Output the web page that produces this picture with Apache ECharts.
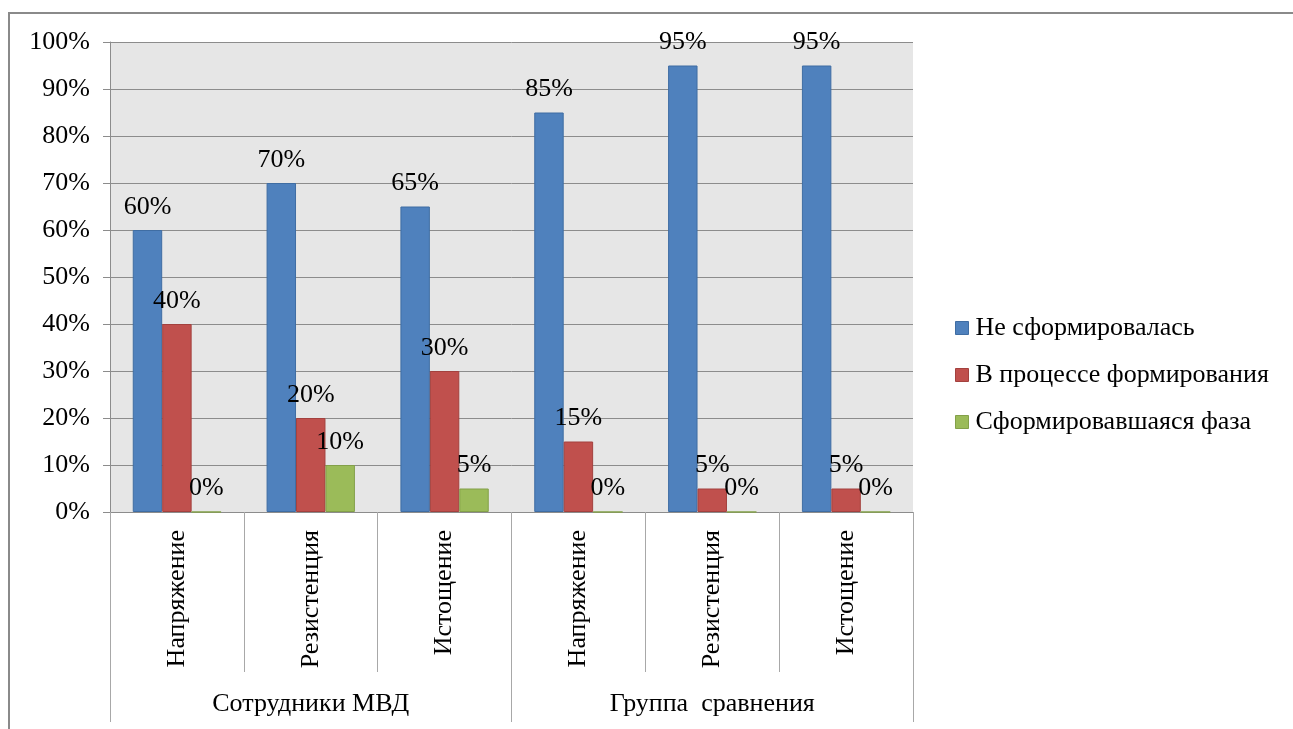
<!DOCTYPE html>
<html>
<head>
<meta charset="utf-8">
<style>
  html, body { margin: 0; padding: 0; background: #ffffff; }
  #chart { width: 1293px; height: 729px; }
</style>
<script src="https://cdn.jsdelivr.net/npm/echarts@6/dist/echarts.min.js"></script>
</head>
<body>
<div id="chart"></div>
<script>
// Stage of the stress syndrome, per group
const stages = ['Напряжение', 'Резистенция', 'Истощение', 'Напряжение', 'Резистенция', 'Истощение'];
const groups = ['Сотрудники МВД', 'Группа  сравнения'];
const seriesNames = ['Не сформировалась', 'В процессе формирования', 'Сформировавшаяся фаза'];
const notFormed = [60, 70, 65, 85, 95, 95];
const forming = [40, 20, 30, 15, 5, 5];
const formed = [0, 10, 5, 0, 0, 0];
const yTicks = [0, 10, 20, 30, 40, 50, 60, 70, 80, 90, 100];

const FONT = 'Liberation Serif, Times New Roman, serif';
const FS = 26;
const colors = ['#4f81bd', '#c0504d', '#9bbb59'];
const borders = ['#3f6da3', '#a3413e', '#83a049'];

const chart = echarts.init(document.getElementById('chart'), null, { renderer: 'canvas' });

function barSeries(name, values, i) {
  return {
    name: name,
    type: 'bar',
    xAxisIndex: 0,
    data: values,
    barGap: '0%',
    barCategoryGap: '34%',
    itemStyle: { color: colors[i], borderColor: borders[i], borderWidth: 1 },
    label: {
      show: true,
      position: 'top',
      distance: 10,
      formatter: p => p.value + '%',
      fontFamily: FONT,
      fontSize: FS,
      color: '#000'
    },
    emphasis: { disabled: true }
  };
}

chart.setOption({
  animation: false,
  backgroundColor: '#ffffff',
  textStyle: { fontFamily: FONT },
  graphic: [{
    type: 'rect',
    shape: { x: 9, y: 13, width: 1300, height: 730 },
    style: { fill: 'none', stroke: '#8a8a8a', lineWidth: 2 },
    silent: true
  }],
  grid: {
    left: 110, top: 42, width: 803, height: 470,
    show: true, backgroundColor: '#e6e6e6', borderWidth: 0
  },
  legend: {
    orient: 'vertical',
    left: 955,
    top: 315,
    padding: 0,
    itemWidth: 13,
    itemHeight: 13,
    itemGap: 21,
    icon: 'rect',
    textStyle: { fontFamily: FONT, fontSize: FS, color: '#000', padding: [0, 0, 0, 2] },
    data: seriesNames.map((n, i) => ({ name: n, itemStyle: { borderColor: borders[i], borderWidth: 1 } }))
  },
  xAxis: [{
    type: 'category',
    data: stages,
    position: 'bottom',
    axisLine: { show: true, lineStyle: { color: '#8c8c8c', width: 1 } },
    axisTick: { show: true, interval: 0, length: 160, lineStyle: { color: '#a8a8a8' } },
    axisLabel: {
      interval: 0, rotate: 90, margin: 18,
      fontFamily: FONT, fontSize: FS, color: '#000'
    }
  }, {
    type: 'category',
    data: groups,
    position: 'bottom',
    axisLine: { show: false },
    axisTick: { show: true, interval: 0, length: 210, lineStyle: { color: '#a8a8a8' } },
    axisLabel: {
      interval: 0, margin: 179,
      fontFamily: FONT, fontSize: FS, color: '#000'
    }
  }],
  yAxis: {
    type: 'value',
    min: yTicks[0],
    max: yTicks[yTicks.length - 1],
    interval: yTicks[1] - yTicks[0],
    axisLine: { show: true, lineStyle: { color: '#8c8c8c' } },
    axisTick: { show: true, length: 7, lineStyle: { color: '#8c8c8c' } },
    splitLine: { show: true, lineStyle: { color: '#8c8c8c', width: 1 } },
    axisLabel: {
      margin: 20,
      formatter: v => v + '%',
      fontFamily: FONT, fontSize: FS, color: '#000'
    }
  },
  series: [
    barSeries(seriesNames[0], notFormed, 0),
    barSeries(seriesNames[1], forming, 1),
    barSeries(seriesNames[2], formed, 2)
  ]
});
</script>
</body>
</html>
